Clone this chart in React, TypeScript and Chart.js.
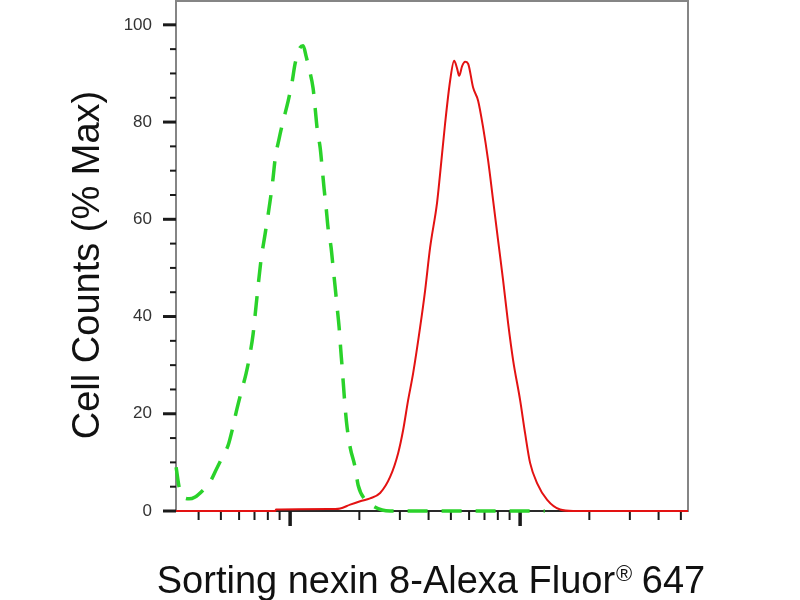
import React, { useEffect, useRef } from "react";
import { Chart, registerables } from "chart.js";

Chart.register(...registerables);

// ---- axis ranges and ticks ----
const X_MIN = 3.19;
const X_MAX = 537;
const Y_MIN = 0;
const Y_MAX = 104.9;

const yTickValues = [0, 5, 10, 15, 20, 25, 30, 35, 40, 45, 50, 55, 60, 65, 70, 75, 80, 85, 90, 95, 100];
const yLabelValues = [0, 20, 40, 60, 80, 100];
const xMajorTicks = [10, 100];
const xMinorTicks = [4, 5, 6, 7, 8, 9, 20, 30, 40, 50, 60, 70, 80, 90, 200, 300, 400, 500];

// ---- titles ----
const yAxisTitle = "Cell Counts (% Max)";
const xAxisTitleMain = "Sorting nexin 8-Alexa Fluor";
const xAxisTitleMark = "®";
const xAxisTitleTail = " 647";

// ---- isotype control (green dashed) ----
const isotypeX = [
  3.194, 3.292, 3.426, 3.638, 3.864, 4.184, 4.489, 4.767, 5.062, 5.375,
  5.595, 5.824, 6.123, 6.437, 6.7, 6.904, 7.044, 7.186, 7.332, 7.48,
  7.786, 8.024, 8.269, 8.436, 8.606, 8.958, 9.324, 9.802, 10.2, 10.51,
  11.05, 11.39, 11.74, 12.09, 12.59, 12.85, 13.11, 13.51, 13.78, 14.05,
  14.34, 14.63, 15.07, 15.38, 15.7, 16.01, 16.33, 16.58, 16.83, 17.08,
  17.34, 17.69, 18.24, 19.17, 19.76, 21.2, 22.96, 25.12, 27.21, 128,
];
const isotypeY = [
  9.0, 4.9, 2.9, 2.5, 2.9, 4.3, 6.0, 8.5, 11.0, 13.5,
  16.6, 20.3, 24.4, 28.3, 32.4, 36.4, 40.3, 44.3, 48.2, 51.8,
  57.0, 61.0, 65.3, 68.6, 72.4, 76.6, 80.2, 84.3, 88.2, 92.0,
  95.3, 95.7, 93.5, 91.0, 86.9, 82.8, 78.6, 74.7, 70.6, 66.3,
  62.4, 58.1, 54.2, 50.1, 46.0, 41.9, 37.8, 33.5, 29.6, 25.5,
  21.4, 17.2, 13.1, 9.0, 5.3, 2.3, 1.0, 0.2, 0, 0,
];

// ---- Sorting nexin 8 stained (red) ----
const snx8X = [
  3.194, 8.61, 8.69, 15.7, 16.5, 18.24, 20.16, 22.27, 24.62, 27.21,
  29.49, 30.99, 32.59, 34.26, 36.75, 38.64, 40.62, 43.56, 44.89, 47.19,
  49.62, 51.65, 53.22, 54.3, 55.95, 57.66, 59.41, 62.46, 65.67, 69.04,
  72.59, 76.32, 80.24, 84.37, 88.7, 93.25, 100, 105.1, 110.5, 118.6,
  131.1, 149.3, 170.0, 537,
];
const snx8Y = [
  0, 0, 0.3, 0.4, 0.5, 1.3, 2.0, 2.6, 3.7, 7.0,
  11.9, 16.6, 22.8, 28.3, 37.8, 45.4, 54.2, 63.5, 69.4, 79.7,
  88.5, 92.6, 91.0, 89.5, 91.5, 92.4, 92.0, 87.1, 84.4, 78.9,
  72.1, 63.9, 55.6, 47.4, 38.6, 31.0, 22.8, 16.0, 9.9, 5.7,
  2.3, 0.3, 0, 0,
];

const FONT = "'Liberation Sans', Arial, Helvetica, sans-serif";

const decorPlugin = {
  id: "decor",
  beforeDatasetsDraw(chart: any) {
    const { ctx, chartArea } = chart;
    const { left, right, top, bottom } = chartArea;
    const xs = chart.scales.x;
    const ys = chart.scales.y;
    ctx.save();
    // frame
    ctx.strokeStyle = "#858585";
    ctx.lineWidth = 2;
    ctx.strokeRect(left, top, right - left, bottom - top);
    // bottom axis
    ctx.strokeStyle = "#2a2a2a";
    ctx.beginPath();
    ctx.moveTo(left, bottom);
    ctx.lineTo(right, bottom);
    ctx.stroke();
    // y ticks
    ctx.strokeStyle = "#1a1a1a";
    for (const v of yTickValues) {
      const py = ys.getPixelForValue(v);
      const major = yLabelValues.includes(v);
      ctx.lineWidth = major ? 3 : 2;
      ctx.beginPath();
      ctx.moveTo(left - (major ? 13 : 6), py);
      ctx.lineTo(left, py);
      ctx.stroke();
    }
    // x ticks
    for (const v of xMinorTicks) {
      const px = xs.getPixelForValue(v);
      ctx.lineWidth = 2;
      ctx.beginPath();
      ctx.moveTo(px, bottom);
      ctx.lineTo(px, bottom + 9);
      ctx.stroke();
    }
    for (const v of xMajorTicks) {
      const px = xs.getPixelForValue(v);
      ctx.lineWidth = 3.5;
      ctx.beginPath();
      ctx.moveTo(px, bottom);
      ctx.lineTo(px, bottom + 15);
      ctx.stroke();
    }
    ctx.restore();
  },
  afterDraw(chart: any) {
    const { ctx } = chart;
    ctx.save();
    ctx.fillStyle = "#111";
    // y title
    ctx.font = `38px ${FONT}`;
    ctx.translate(99, 265);
    ctx.rotate(-Math.PI / 2);
    ctx.textAlign = "center";
    ctx.textBaseline = "alphabetic";
    ctx.fillText(yAxisTitle, 0, 0);
    ctx.restore();

    ctx.save();
    ctx.fillStyle = "#111";
    ctx.textAlign = "left";
    ctx.textBaseline = "alphabetic";
    const bigFont = `38px ${FONT}`;
    const smallFont = `22px ${FONT}`;
    ctx.font = bigFont;
    const w1 = ctx.measureText(xAxisTitleMain).width;
    const w3 = ctx.measureText(xAxisTitleTail).width;
    ctx.font = smallFont;
    const w2 = ctx.measureText(xAxisTitleMark).width;
    const total = w1 + w2 + w3;
    const cx = 431;
    const baseY = 593;
    let x0 = cx - total / 2;
    ctx.font = bigFont;
    ctx.fillText(xAxisTitleMain, x0, baseY);
    x0 += w1;
    ctx.font = smallFont;
    ctx.fillText(xAxisTitleMark, x0 + 1, baseY - 12);
    x0 += w2;
    ctx.font = bigFont;
    ctx.fillText(xAxisTitleTail, x0, baseY);
    ctx.restore();
  },
};

export default function App() {
  const canvasRef = useRef<HTMLCanvasElement | null>(null);

  useEffect(() => {
    const canvas = canvasRef.current;
    if (!canvas) return;
    const redData = snx8X.map((x, i) => ({ x, y: snx8Y[i] }));
    const greenData = isotypeX.map((x, i) => ({ x, y: isotypeY[i] }));
    const chart = new Chart(canvas, {
      type: "line",
      data: {
        datasets: [
          {
            label: "Sorting nexin 8",
            data: redData,
            borderColor: "#e31212",
            borderWidth: 2,
            pointRadius: 0,
            fill: false,
            cubicInterpolationMode: "monotone",
            clip: false as any,
          },
          {
            label: "Isotype control",
            data: greenData,
            borderColor: "#2ad22a",
            borderWidth: 3.5,
            borderDash: [20, 14],
            pointRadius: 0,
            fill: false,
            cubicInterpolationMode: "monotone",
            clip: false as any,
          },
        ],
      },
      options: {
        responsive: false,
        maintainAspectRatio: false,
        animation: false,
        layout: { padding: { left: 0, top: 1, right: 112, bottom: 0 } },
        plugins: {
          legend: { display: false },
          tooltip: { enabled: false },
          title: { display: false },
        },
        scales: {
          x: {
            type: "logarithmic",
            min: X_MIN,
            max: X_MAX,
            grid: { display: false, drawTicks: false },
            border: { display: false },
            ticks: { display: false },
            afterFit: (scale: any) => {
              scale.height = 89;
              scale.paddingLeft = 0;
              scale.paddingRight = 0;
            },
          },
          y: {
            type: "linear",
            min: Y_MIN,
            max: Y_MAX,
            grid: { display: false, drawTicks: false, tickLength: 0 },
            border: { display: false },
            afterBuildTicks: (scale: any) => {
              scale.ticks = yTickValues.map((v) => ({ value: v }));
            },
            ticks: {
              autoSkip: false,
              padding: 24,
              color: "#333",
              font: { family: FONT, size: 17 },
              callback: (v: any) => (yLabelValues.includes(Number(v)) ? String(v) : ""),
            },
            afterFit: (scale: any) => {
              scale.width = 176;
              scale.paddingTop = 0;
              scale.paddingBottom = 0;
            },
          },
        },
      },
      plugins: [decorPlugin],
    });
    return () => chart.destroy();
  }, []);

  return (
    <div style={{ position: "fixed", left: 0, top: 0, width: 800, height: 600, background: "#fff" }}>
      <canvas ref={canvasRef} width={800} height={600} style={{ width: 800, height: 600, display: "block" }} />
    </div>
  );
}
